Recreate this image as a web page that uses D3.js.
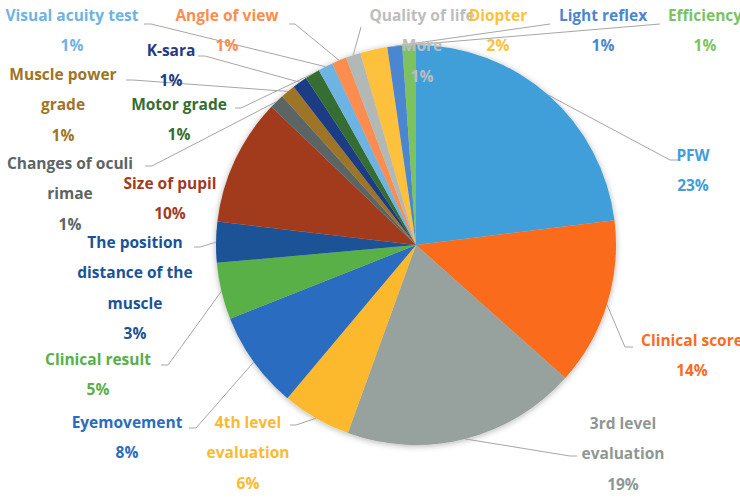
<!DOCTYPE html>
<html>
<head>
<meta charset="utf-8">
<script src="https://cdn.jsdelivr.net/npm/d3@7"></script>
<style>
  body { margin: 0; background: #fff; }
  svg { display: block; }
  text { font-family: "Open Sans", sans-serif; font-weight: 700; font-size: 15.5px; }
</style>
</head>
<body>
<div id="chart"></div>
<script>
// data, clockwise from 12 o'clock
var categories = ["PFW", "Clinical score", "3rd level evaluation", "4th level evaluation",
  "Eyemovement", "Clinical result", "The position distance of the muscle", "Size of pupil",
  "Changes of oculi rimae", "Muscle power grade", "K-sara", "Motor grade",
  "Visual acuity test", "Angle of view", "Quality of life More", "Diopter",
  "Light reflex", "Efficiency"];
var values = [23.1, 13.6, 19.0, 5.6, 7.9, 4.6, 3.3, 10.3,
  1.2, 1.2, 1.2, 1.2, 1.2, 1.2, 1.2, 2.2, 1.2, 1.1];
// how the category names wrap in the labels
var nameLines = [["PFW"], ["Clinical score"], ["3rd level", "evaluation"], ["4th level", "evaluation"],
  ["Eyemovement"], ["Clinical result"], ["The position", "distance of the", "muscle"], ["Size of pupil"],
  ["Changes of oculi", "rimae"], ["Muscle power", "grade"], ["K-sara"], ["Motor grade"],
  ["Visual acuity test"], ["Angle of view"], ["Quality of life", "More"], ["Diopter"],
  ["Light reflex"], ["Efficiency"]];

//Config
var W = 740, H = 498;
var cx = 416, cy = 245, R = 200;
var lineGap = 30.3;
var colors = ["#419ED8", "#FA6C1F", "#97A19E", "#FDB92F", "#2B6CBF", "#58B047", "#1B5397", "#A23B1E",
  "#5B6566", "#9E7425", "#1F3C86", "#366D30", "#6DB4E4", "#FD8D4F", "#B2B8B6", "#FEC13C",
  "#4B87D0", "#7BC35F"];
var textColors = colors.slice();
textColors[14] = "#BDBDBD";
textColors[2] = "#8F9794";

// label placement: centre x, first baseline, leader anchor [x,y], elbow dx (0 = none)
var labelPos = [
  {x: 693, y: 161, a: [678, 160], e: -8},
  {x: 692, y: 346, a: [633, 347], e: -8},
  {x: 623, y: 429, a: [577, 456], e: -7},
  {x: 248, y: 428, a: [290, 425], e: 6},
  {x: 127, y: 428, a: [189, 428], e: 7},
  {x: 98, y: 365, a: [161, 365], e: 7},
  {x: 135, y: 248, a: [194, 247], e: 6},
  {x: 170, y: 189, a: null},
  {x: 70, y: 169, a: [145, 166], e: 7},
  {x: 63, y: 80, a: [126, 80], e: 7},
  {x: 171, y: 56, a: [198, 56], e: 7},
  {x: 179, y: 110, a: [235, 108], e: 6},
  {x: 72, y: 21, a: [144, 24], e: 7},
  {x: 227, y: 21, a: [289, 24], e: 6},
  {x: 422, y: 21, a: [361, 27], e: 0},
  {x: 498, y: 21, a: null},
  {x: 603, y: 21, a: [550, 24], e: 0},
  {x: 705, y: 21, a: [660, 24], e: 0}
];

var total = d3.sum(values);
var fmt = d3.format(".0%");

var svg = d3.select("#chart").append("svg")
  .attr("width", W)
  .attr("height", H);

var defs = svg.append("defs");
defs.append("filter")
  .attr("id", "shadow")
  .attr("x", "-20%").attr("y", "-20%").attr("width", "140%").attr("height", "140%")
  .append("feDropShadow")
  .attr("dx", 0).attr("dy", 1)
  .attr("stdDeviation", 3)
  .attr("flood-color", "#000")
  .attr("flood-opacity", 0.3);

var data = categories.map(function(c, i) {
  return {name: c, value: values[i], lines: nameLines[i], color: colors[i], tcolor: textColors[i], pos: labelPos[i]};
});

var pie = d3.pie()
  .sort(null)
  .value(function(d) { return d.value; });

var arc = d3.arc().innerRadius(0).outerRadius(R);
var edge = d3.arc().innerRadius(R).outerRadius(R);

var arcs = pie(data);

var g = svg.append("g")
  .attr("transform", "translate(" + cx + "," + cy + ")");

g.append("g")
  .attr("filter", "url(#shadow)")
  .selectAll("path")
  .data(arcs)
  .enter()
  .append("path")
  .attr("d", arc)
  .attr("fill", function(d) { return d.data.color; });

// leader lines
var line = d3.line();
svg.append("g")
  .selectAll("path")
  .data(arcs.filter(function(d) { return d.data.pos.a; }))
  .enter()
  .append("path")
  .attr("fill", "none")
  .attr("stroke", "#A6A6A6")
  .attr("stroke-width", 1)
  .attr("d", function(d) {
    var p = d.data.pos;
    var c = edge.centroid(d);
    var pts = [p.a];
    if (p.e) pts.push([p.a[0] + p.e, p.a[1]]);
    pts.push([c[0] + cx, c[1] + cy]);
    return line(pts);
  });

// labels
var labels = svg.append("g")
  .selectAll("text")
  .data(arcs)
  .enter()
  .append("text")
  .attr("text-anchor", "middle")
  .attr("fill", function(d) { return d.data.tcolor; });

labels.each(function(d) {
  var t = d3.select(this);
  var lines = d.data.lines.concat([fmt(d.data.value / total)]);
  lines.forEach(function(s, i) {
    t.append("tspan")
      .attr("x", d.data.pos.x)
      .attr("y", d.data.pos.y + i * lineGap)
      .text(s);
  });
});
</script>
</body>
</html>
